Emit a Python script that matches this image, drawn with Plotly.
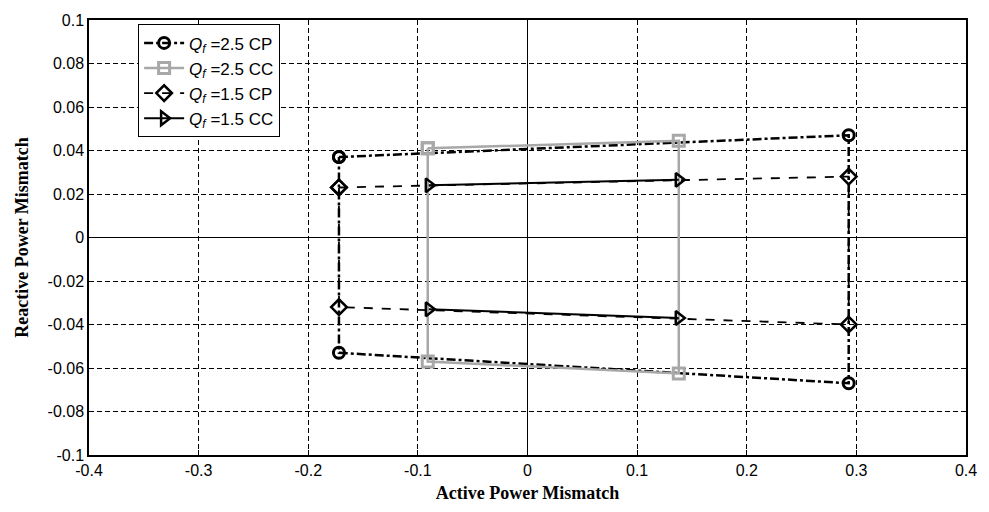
import plotly.graph_objects as go

# Operating-region corners (active, reactive mismatch) for each detection scheme
qf25_cp_x = [-0.172, 0.293, 0.293, -0.172, -0.172]
qf25_cp_y = [0.037, 0.047, -0.067, -0.053, 0.037]

qf25_cc_x = [-0.091, 0.138, 0.138, -0.091, -0.091]
qf25_cc_y = [0.041, 0.0445, -0.0625, -0.057, 0.041]

qf15_cp_x = [-0.172, 0.293, 0.293, -0.172, -0.172]
qf15_cp_y = [0.023, 0.028, -0.040, -0.032, 0.023]

qf15_cc_x = [-0.090, 0.138, None, -0.090, 0.138]
qf15_cc_y = [0.024, 0.0265, None, -0.033, -0.037]

x_ticks = [-0.4, -0.3, -0.2, -0.1, 0, 0.1, 0.2, 0.3, 0.4]
x_tick_text = ["-0.4", "-0.3", "-0.2", "-0.1", "0", "0.1", "0.2", "0.3", "0.4"]
y_ticks = [-0.1, -0.08, -0.06, -0.04, -0.02, 0, 0.02, 0.04, 0.06, 0.08, 0.1]
y_tick_text = ["-0.1", "-0.08", "-0.06", "-0.04", "-0.02", "0", "0.02", "0.04", "0.06", "0.08", "0.1"]

def qf_label(v, mode):
    return f"<i>Q</i><sub><i>f</i></sub> ={v} {mode}"

fig = go.Figure()

fig.add_trace(go.Scatter(
    x=qf25_cp_x, y=qf25_cp_y, mode="lines+markers", name=qf_label("2.5", "CP"),
    line=dict(color="black", width=2.5, dash="dashdot"),
    marker=dict(symbol="circle-open", size=11, color="black", line=dict(width=3)),
))
fig.add_trace(go.Scatter(
    x=qf25_cc_x, y=qf25_cc_y, mode="lines+markers", name=qf_label("2.5", "CC"),
    line=dict(color="#a8a8a8", width=2.5),
    marker=dict(symbol="square-open", size=11, color="#a8a8a8", line=dict(width=3)),
))
fig.add_trace(go.Scatter(
    x=qf15_cp_x, y=qf15_cp_y, mode="lines+markers", name=qf_label("1.5", "CP"),
    line=dict(color="black", width=1.8, dash="dash"),
    marker=dict(symbol="diamond-open", size=12, color="black", line=dict(width=2.5)),
))
fig.add_trace(go.Scatter(
    x=qf15_cc_x, y=qf15_cc_y, mode="lines+markers", name=qf_label("1.5", "CC"),
    line=dict(color="black", width=2),
    marker=dict(symbol="triangle-right-open", size=12, color="black", line=dict(width=2.5)),
    connectgaps=False,
))

axis_common = dict(
    showline=True, linecolor="black", linewidth=1.5, mirror=True,
    ticks="inside", ticklen=5, tickcolor="black",
    showgrid=True, gridcolor="black", griddash="5px,3px", gridwidth=1,
    zeroline=True, zerolinecolor="black", zerolinewidth=1.2,
    tickfont=dict(family="Liberation Sans, Arial", size=16, color="black"),
)

fig.update_xaxes(
    range=[-0.4, 0.4], tickvals=x_ticks, ticktext=x_tick_text,
    title=dict(text="<b>Active Power Mismatch</b>", standoff=8,
               font=dict(family="Liberation Serif, Times New Roman", size=18, color="black")),
    **axis_common,
)
fig.update_yaxes(
    range=[-0.1, 0.1], tickvals=y_ticks, ticktext=y_tick_text,
    title=dict(text="<b>Reactive Power Mismatch</b>", standoff=14,
               font=dict(family="Liberation Serif, Times New Roman", size=18, color="black")),
    **axis_common,
)

fig.update_layout(
    width=989, height=512,
    margin=dict(l=89, r=20, t=12, b=56),
    paper_bgcolor="white", plot_bgcolor="white",
    showlegend=True,
    legend=dict(
        x=0.056, y=0.99, xanchor="left", yanchor="top",
        bgcolor="white", bordercolor="black", borderwidth=1,
        font=dict(family="Liberation Sans, Arial", size=17, color="black"),
        tracegroupgap=0, itemwidth=40,
    ),
)

fig.write_html("out.html")
